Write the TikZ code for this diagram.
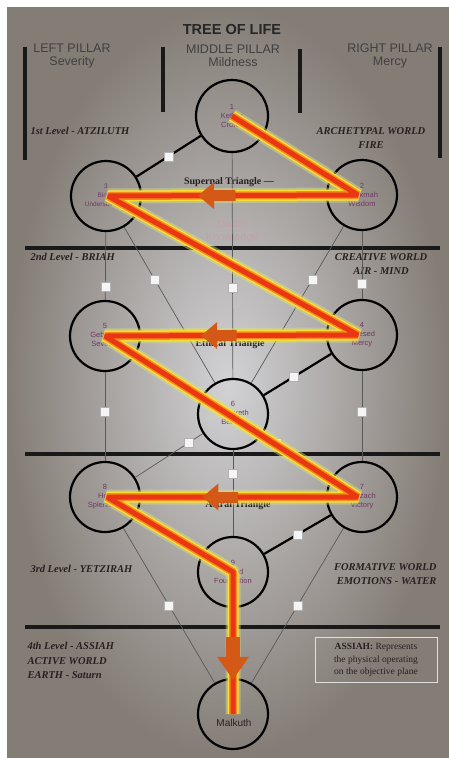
\documentclass[tikz,border=0pt]{standalone}
\usepackage{fontspec}
\setmainfont{Liberation Serif}
\setsansfont{Liberation Sans}
\usepackage{tikz}
\usetikzlibrary{arrows.meta}
\definecolor{pathred}{RGB}{232,55,18}
\definecolor{glowyellow}{RGB}{250,222,55}
\definecolor{gloworange}{RGB}{246,140,30}
\definecolor{glowouter}{RGB}{215,228,120}
\definecolor{arroworange}{RGB}{212,88,22}
\definecolor{sephlabel}{RGB}{115,55,100}
\definecolor{inktext}{RGB}{40,32,32}
\definecolor{daathpink}{RGB}{196,160,166}
\definecolor{bgin}{RGB}{210,210,213}
\definecolor{bgout}{RGB}{132,125,118}

\begin{document}
\begin{tikzpicture}[x=1pt, y=-1pt,
    sephira/.style={circle, draw=black, line width=2.2pt, minimum size=70pt, inner sep=0pt,
      font=\sffamily\fontsize{7.5}{9}\selectfont, text=sephlabel, align=center},
    thinpath/.style={draw=black!65, line width=0.7pt},
    thickpath/.style={draw=black, line width=2.2pt},
    tag/.style={draw=gray!60, fill=white!92!gray, minimum size=9pt, inner sep=0pt, line width=0.5pt},
    bar/.style={draw=black!90, line width=3.5pt},
    pillar/.style={font=\sffamily\fontsize{12.5}{13.5}\selectfont, text=black!75, align=center},
    leveltext/.style={font=\rmfamily\bfseries\itshape\fontsize{10.5}{14.5}\selectfont, text=inktext},
    triangletext/.style={font=\rmfamily\bfseries\fontsize{10}{11}\selectfont, text=inktext},
    redpath/.style={draw=pathred, line width=5pt, line join=miter, miter limit=3,
      preaction={draw=glowouter, line width=15pt, opacity=.45, line join=bevel},
      preaction={draw=glowyellow, line width=11pt, line join=bevel},
      preaction={draw=gloworange, line width=8pt, line join=bevel}},
    leftarrow/.style={draw=arroworange, line width=11pt, -{Triangle[length=16pt, width=26pt]}},
    downarrow/.style={draw=arroworange, line width=14pt, -{Triangle[length=23pt, width=30pt]}}]
\useasboundingbox (0,0) rectangle (449,758);
\shade[inner color=bgin, outer color=bgout] (7,7) rectangle (449,758);

\node[font=\sffamily\bfseries\fontsize{14.5}{16}\selectfont, text=black!85] (title) at (232,30) {TREE OF LIFE};
\node[pillar] (leftpillar) at (72,56) {LEFT PILLAR\\Severity};
\node[pillar] (middlepillar) at (233,56) {MIDDLE PILLAR\\Mildness};
\node[pillar] (rightpillar) at (390,56) {RIGHT PILLAR\\Mercy};
\draw[bar] (25,47) -- (25,160);
\draw[bar] (163,47) -- (163,112);
\draw[bar] (300,49) -- (300,113);
\draw[bar] (440,47) -- (440,158);
\draw[bar] (25,248) -- (440,248);
\draw[bar] (25,454) -- (440,454);
\draw[bar] (25,627) -- (440,627);

\node[leveltext, anchor=west] (atziluth) at (27,131) {1st Level - ATZILUTH};
\node[leveltext, align=center] (archetypal) at (371,138) {ARCHETYPAL WORLD\\FIRE};
\node[leveltext, anchor=west] (briah) at (27,257) {2nd Level - BRIAH};
\node[leveltext, align=center] (creative) at (381,264) {CREATIVE WORLD\\AIR - MIND};
\node[leveltext, anchor=west] (yetzirah) at (27,569) {3rd Level - YETZIRAH};
\node[leveltext, align=right, anchor=east] (formative) at (440,574) {FORMATIVE WORLD\\EMOTIONS - WATER};
\node[leveltext, align=left, anchor=north west] (assiah) at (24,639) {4th Level - ASSIAH\\ACTIVE WORLD\\EARTH - Saturn};
\node[draw=white!75!gray, line width=0.6pt, minimum width=122pt, minimum height=45pt, inner sep=2pt,
  font=\rmfamily\fontsize{9.5}{12.5}\selectfont, text=inktext, align=center] (assiahbox) at (376,660)
  {\textbf{ASSIAH:} Represents\\the physical operating\\on the objective plane};

\node[sephira, minimum size=72pt] (kether) at (232,116) {1\\Kether\\Crown};
\node[sephira] (chokmah) at (362,195) {2\\Chokmah\\Wisdom};
\node[sephira, font=\sffamily\fontsize{6.5}{9}\selectfont] (binah) at (106,196) {3\\Binah\\Understanding};
\node[sephira] (chesed) at (362,335) {4\\Chesed\\Mercy};
\node[sephira] (geburah) at (105,336) {5\\Geburah\\Severity};
\node[sephira] (tiphareth) at (233,414) {6\\Tiphareth\\Beauty};
\node[sephira] (netzach) at (362,497) {7\\Netzach\\Victory};
\node[sephira] (hod) at (105,497) {8\\Hod\\Splendour};
\node[sephira] (yesod) at (233,572) {9\\Yesod\\Foundation};
\node[sephira] (malkuth) at (233,714) {};
\node[font=\sffamily\fontsize{10}{11}\selectfont, text=inktext] (malkuthname) at (234,723) {Malkuth};

\node[triangletext] (supernal) at (229,182) {Supernal Triangle ---};
\node[font=\sffamily\fontsize{10.5}{13}\selectfont, text=daathpink, align=center] (daath) at (232,231) {Daath\\Knowledge};
\node[triangletext] (ethical) at (230,344) {Ethical Triangle};
\node[triangletext] (astral) at (238,505) {Astral Triangle};

\draw[thinpath] (kether) -- (chokmah);
\draw[thickpath] (kether) -- node[tag, pos=0.5] (t13) {} (binah);
\draw[thinpath] (kether) -- node[tag, pos=0.6] (t16) {} (tiphareth);
\draw[thinpath] (chokmah) -- (binah);
\draw[thinpath] (chokmah) -- node[tag, pos=0.78] (t24) {} (chesed);
\draw[thinpath] (binah) -- node[tag, pos=0.8] (t35) {} (geburah);
\draw[thinpath] (chokmah) -- node[tag, pos=0.34] (t26) {} (tiphareth);
\draw[thinpath] (binah) -- node[tag, pos=0.34] (t36) {} (tiphareth);
\draw[thinpath] (chesed) -- (geburah);
\draw[thickpath] (chesed) -- node[tag, pos=0.55] (t46) {} (tiphareth);
\draw[thinpath] (geburah) -- (tiphareth);
\draw[thinpath] (chesed) -- node[tag, pos=0.45] (t47) {} (netzach);
\draw[thinpath] (geburah) -- node[tag, pos=0.45] (t58) {} (hod);
\draw[thinpath] (tiphareth) -- node[tag, pos=0.2] (t67) {} (netzach);
\draw[thinpath] (tiphareth) -- node[tag, pos=0.2] (t68) {} (hod);
\draw[thinpath] (tiphareth) -- node[tag, pos=0.28] (t69) {} (yesod);
\draw[thinpath] (netzach) -- (hod);
\draw[thickpath] (netzach) -- node[tag, pos=0.5] (t79) {} (yesod);
\draw[thinpath] (hod) -- (yesod);
\draw[thinpath] (netzach) -- node[tag, pos=0.5] (t710) {} (malkuth);
\draw[thinpath] (hod) -- node[tag, pos=0.5] (t810) {} (malkuth);
\draw[thinpath] (yesod) -- (malkuth);

\draw[redpath] (kether.center) -- ([xshift=-4pt]chokmah.center)
  -- coordinate[pos=0.49] (tail1) coordinate[pos=0.64] (tip1) ([xshift=2pt]binah.center)
  -- ([xshift=-4pt]chesed.center)
  -- coordinate[pos=0.48] (tail2) coordinate[pos=0.62] (tip2) (geburah.center)
  -- ([xshift=-4pt]netzach.center)
  -- coordinate[pos=0.48] (tail3) coordinate[pos=0.62] (tip3) ([xshift=2pt]hod.center)
  -- (yesod.center)
  -- coordinate[pos=0.46] (tail4) coordinate[pos=0.76] (tip4) (malkuth.center);
\draw[leftarrow] (tail1) -- (tip1);
\draw[leftarrow] (tail2) -- (tip2);
\draw[leftarrow] (tail3) -- (tip3);
\draw[downarrow] (tail4) -- (tip4);
\end{tikzpicture}
\end{document}
